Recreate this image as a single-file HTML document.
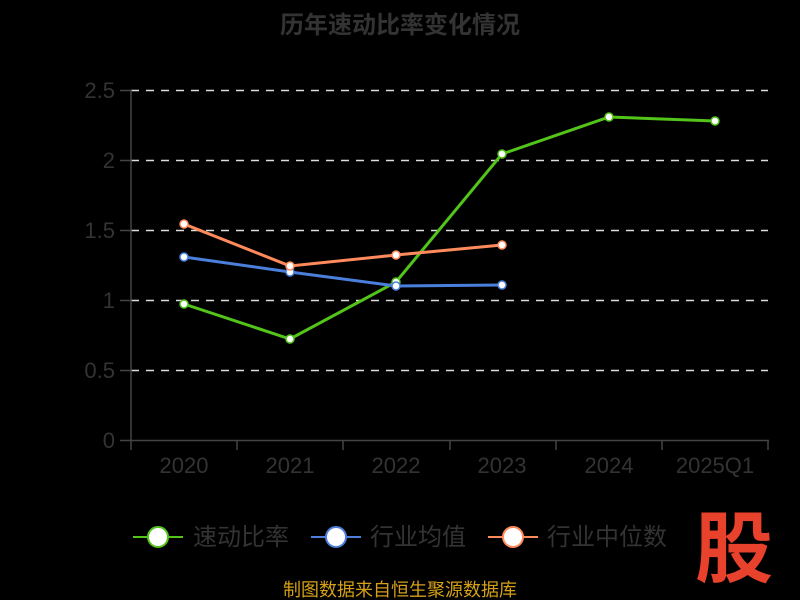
<!DOCTYPE html>
<html><head><meta charset="utf-8"><style>
body{margin:0;background:#000;}
svg{display:block;font-family:"Liberation Sans","Noto Sans CJK SC",sans-serif;}
</style></head><body>
<svg width="800" height="600" viewBox="0 0 800 600">
<rect width="800" height="600" fill="#000"/>
<text x="400" y="33" text-anchor="middle" font-size="24" font-weight="bold" fill="#333">历年速动比率变化情况</text>
<g stroke="#ddd" stroke-width="1.5" stroke-dasharray="8,7">
<line x1="131" y1="90.5" x2="768" y2="90.5"/>
<line x1="131" y1="160.5" x2="768" y2="160.5"/>
<line x1="131" y1="230.5" x2="768" y2="230.5"/>
<line x1="131" y1="300.5" x2="768" y2="300.5"/>
<line x1="131" y1="370.5" x2="768" y2="370.5"/>
</g>
<g stroke="#444" stroke-width="1.5">
<line x1="131" y1="90" x2="131" y2="441"/>
<line x1="130" y1="440.5" x2="769" y2="440.5"/>
<line x1="120" y1="90.5" x2="131" y2="90.5"/><line x1="120" y1="160.5" x2="131" y2="160.5"/>
<line x1="120" y1="230.5" x2="131" y2="230.5"/><line x1="120" y1="300.5" x2="131" y2="300.5"/>
<line x1="120" y1="370.5" x2="131" y2="370.5"/><line x1="120" y1="440.5" x2="131" y2="440.5"/>
<line x1="131" y1="440" x2="131" y2="450"/><line x1="237" y1="440" x2="237" y2="450"/>
<line x1="343" y1="440" x2="343" y2="450"/><line x1="450" y1="440" x2="450" y2="450"/>
<line x1="556" y1="440" x2="556" y2="450"/><line x1="662" y1="440" x2="662" y2="450"/>
<line x1="768" y1="440" x2="768" y2="450"/>
</g>
<g font-size="22" fill="#333" text-anchor="end">
<text x="115" y="98">2.5</text><text x="115" y="168">2</text><text x="115" y="238">1.5</text>
<text x="115" y="308">1</text><text x="115" y="378">0.5</text><text x="115" y="448">0</text>
</g>
<g font-size="22" fill="#333" text-anchor="middle">
<text x="184" y="473">2020</text><text x="290" y="473">2021</text><text x="396" y="473">2022</text>
<text x="502" y="473">2023</text><text x="609" y="473">2024</text><text x="715" y="473">2025Q1</text>
</g>
<polyline points="184,304 290,339 396,282 502,154 609,117 715,121" fill="none" stroke="#52c41a" stroke-width="3"/>
<polyline points="184,257 290,272 396,286 502,285" fill="none" stroke="#4a7fdc" stroke-width="3"/>
<polyline points="184,224 290,266 396,255 502,245" fill="none" stroke="#ff8a5c" stroke-width="3"/>
<g fill="#fff" stroke-width="1.5">
<g stroke="#52c41a"><circle cx="184" cy="304" r="4"/><circle cx="290" cy="339" r="4"/><circle cx="396" cy="282" r="4"/><circle cx="502" cy="154" r="4"/><circle cx="609" cy="117" r="4"/><circle cx="715" cy="121" r="4"/></g>
<g stroke="#4a7fdc"><circle cx="184" cy="257" r="4"/><circle cx="290" cy="272" r="4"/><circle cx="396" cy="286" r="4"/><circle cx="502" cy="285" r="4"/></g>
<g stroke="#ff8a5c"><circle cx="184" cy="224" r="4"/><circle cx="290" cy="266" r="4"/><circle cx="396" cy="255" r="4"/><circle cx="502" cy="245" r="4"/></g>
</g>
<g stroke-width="2">
<line x1="133" y1="537" x2="183" y2="537" stroke="#52c41a"/><circle cx="158" cy="537" r="10" fill="#fff" stroke="#52c41a"/>
<line x1="311" y1="537" x2="361" y2="537" stroke="#4a7fdc"/><circle cx="336" cy="537" r="10" fill="#fff" stroke="#4a7fdc"/>
<line x1="488" y1="537" x2="538" y2="537" stroke="#ff8a5c"/><circle cx="513" cy="537" r="10" fill="#fff" stroke="#ff8a5c"/>
</g>
<g font-size="24" fill="#333">
<text x="193" y="545">速动比率</text><text x="370" y="545">行业均值</text><text x="547" y="545">行业中位数</text>
</g>
<text x="734" y="576" text-anchor="middle" font-size="78" font-weight="bold" fill="#e8412c">股</text>
<text x="400" y="596" text-anchor="middle" font-size="18" fill="#d4a017">制图数据来自恒生聚源数据库</text>
</svg>
</body></html>
